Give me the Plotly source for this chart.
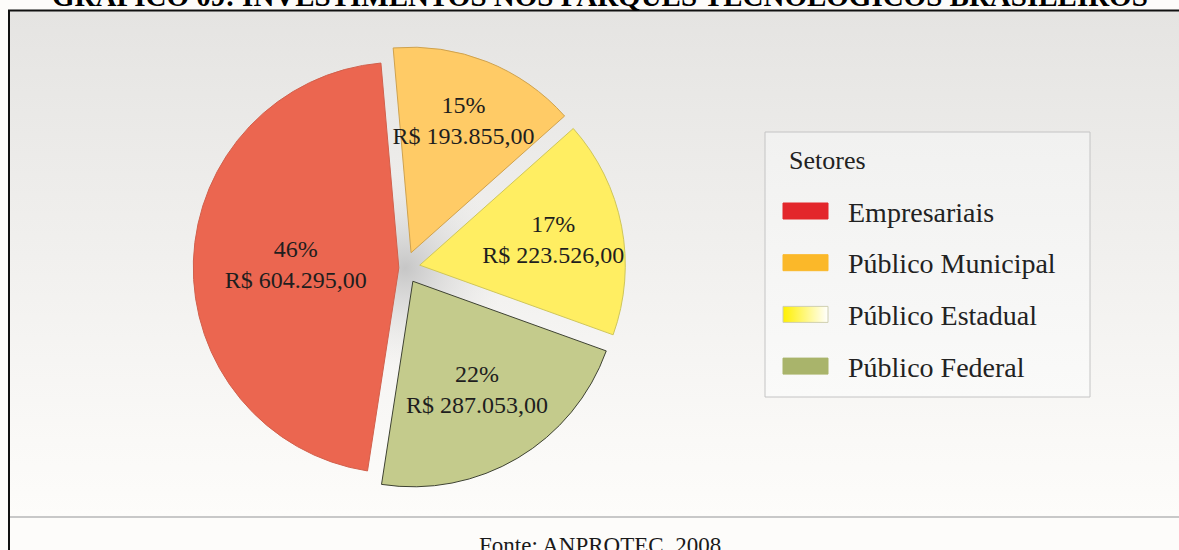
import base64
import plotly.graph_objects as go

# Investimentos por setor (R$)
setores = ["Público Municipal", "Público Estadual", "Público Federal", "Empresariais"]
valores = [193855.00, 223526.00, 287053.00, 604295.00]
destaque = [0.08, 0.073, 0.075, 0.03]  # afastamento de cada fatia

# cores das fatias e das amostras da legenda
cores_fatias = ["#FFCB66", "#FFEE62", "#C4CB8C", "#EB6650"]
cores_borda = ["#CFA24E", "#CFC65A", "#3E4232", "#D2604C"]
legenda_ordem = ["Empresariais", "Público Municipal", "Público Estadual", "Público Federal"]
legenda_cores = ["#E3262B", "#FBB829", None, "#A9B46B"]  # None -> gradiente amarelo/branco

titulo = "GRÁFICO 09: INVESTIMENTOS NOS PARQUES TECNOLÓGICOS BRASILEIROS"
fonte = "Fonte: ANPROTEC, 2008"
titulo_legenda = "Setores"

W, H = 1179, 550
SERIF = "Liberation Serif, Times New Roman, serif"

# geometria (pixels)
pie_cx, pie_cy, pie_box = 405, 268, 444
leg_x0, leg_y0, leg_x1, leg_y1 = 765, 132, 1090, 397
sw_x0, sw_x1, sw_h = 783, 828, 16
item_y0, item_step = 211, 51.7


def px(x):
    return x / W


def py(y):
    return 1 - y / H


# fundo: painel em degradê, sombra central, caixa da legenda
est_idx = legenda_cores.index(None)
est_y = item_y0 + est_idx * item_step
svg = f'''<svg xmlns="http://www.w3.org/2000/svg" width="{W}" height="{H}" viewBox="0 0 {W} {H}" preserveAspectRatio="none">
<defs>
<linearGradient id="panel" x1="0" y1="0" x2="0" y2="1">
<stop offset="0" stop-color="#E5E4E2"/><stop offset="0.85" stop-color="#FAF9F7"/><stop offset="1" stop-color="#FDFCFA"/></linearGradient>
<radialGradient id="hub" cx="0.5" cy="0.5" r="0.5">
<stop offset="0" stop-color="#C6C6C6"/><stop offset="1" stop-color="#E4E4E4" stop-opacity="0"/></radialGradient>
<linearGradient id="box" x1="0" y1="0" x2="0" y2="1">
<stop offset="0" stop-color="#F1F1F0"/><stop offset="1" stop-color="#FAFAF9"/></linearGradient>
<linearGradient id="est" x1="0" y1="0" x2="1" y2="0">
<stop offset="0" stop-color="#FFF000"/><stop offset="1" stop-color="#FFFFFF"/></linearGradient>
</defs>
<rect x="9" y="11" width="{W - 9}" height="506" fill="url(#panel)"/>
<circle cx="{pie_cx}" cy="{pie_cy}" r="100" fill="url(#hub)"/>
<rect x="{leg_x0}" y="{leg_y0}" width="{leg_x1 - leg_x0}" height="{leg_y1 - leg_y0}" fill="url(#box)"/>
<rect x="{sw_x0}" y="{est_y - sw_h / 2}" width="{sw_x1 - sw_x0}" height="{sw_h}" fill="url(#est)"/>
</svg>'''
svg_uri = "data:image/svg+xml;base64," + base64.b64encode(svg.encode("utf-8")).decode("ascii")

fig = go.Figure()

fig.add_trace(go.Pie(
    labels=setores,
    values=valores,
    sort=False,
    direction="clockwise",
    rotation=-5,
    pull=destaque,
    marker=dict(colors=cores_fatias, line=dict(color=cores_borda, width=1)),
    texttemplate="%{percent:.0%}<br>R$ %{value:,.2f}",
    textposition="inside",
    insidetextorientation="horizontal",
    textfont=dict(family=SERIF, size=24, color="#1E1E1E"),
    hoverinfo="label+value+percent",
    showlegend=False,
    domain=dict(
        x=[px(pie_cx - pie_box / 2), px(pie_cx + pie_box / 2)],
        y=[py(pie_cy + pie_box / 2), py(pie_cy - pie_box / 2)],
    ),
))

shapes = [
    # moldura
    dict(type="line", xref="paper", yref="paper", x0=px(9), x1=px(9), y0=py(10), y1=py(H),
         line=dict(color="#111111", width=2)),
    dict(type="line", xref="paper", yref="paper", x0=px(8), x1=1, y0=py(10.5), y1=py(10.5),
         line=dict(color="#111111", width=2)),
    dict(type="line", xref="paper", yref="paper", x0=px(10), x1=1, y0=py(517), y1=py(517),
         line=dict(color="#C8C8C8", width=2)),
    # caixa da legenda
    dict(type="rect", xref="paper", yref="paper", x0=px(leg_x0), x1=px(leg_x1),
         y0=py(leg_y1), y1=py(leg_y0), line=dict(color="#C4C4C4", width=1)),
]

annotations = [
    dict(text=f"<b>{titulo}</b>", x=px(600), y=py(-4), xref="paper", yref="paper",
         xanchor="center", yanchor="middle", showarrow=False,
         font=dict(family=SERIF, size=29, color="#000000")),
    dict(text=fonte, x=px(600), y=py(545), xref="paper", yref="paper",
         xanchor="center", yanchor="middle", showarrow=False,
         font=dict(family=SERIF, size=23, color="#1A1A1A")),
    dict(text=titulo_legenda, x=px(787), y=py(160), xref="paper", yref="paper",
         xanchor="left", yanchor="middle", showarrow=False,
         font=dict(family=SERIF, size=26, color="#222222")),
]

for i, (nome, cor) in enumerate(zip(legenda_ordem, legenda_cores)):
    yc = item_y0 + i * item_step
    shapes.append(dict(
        type="rect", xref="paper", yref="paper",
        x0=px(sw_x0), x1=px(sw_x1), y0=py(yc + sw_h / 2), y1=py(yc - sw_h / 2),
        fillcolor=cor if cor else "rgba(0,0,0,0)",
        line=dict(color="#CFCFB0" if cor is None else cor, width=1),
    ))
    annotations.append(dict(
        text=nome, x=px(846), y=py(yc + 1), xref="paper", yref="paper",
        xanchor="left", yanchor="middle", showarrow=False,
        font=dict(family=SERIF, size=28, color="#222222"),
    ))

fig.update_layout(
    width=W, height=H,
    margin=dict(l=0, r=0, t=0, b=0),
    paper_bgcolor="#FDFCFA",
    plot_bgcolor="#FDFCFA",
    separators=",.",
    uniformtext=dict(minsize=24, mode="show"),
    images=[dict(source=svg_uri, xref="paper", yref="paper", x=0, y=1,
                 sizex=1, sizey=1, xanchor="left", yanchor="top",
                 sizing="stretch", layer="below")],
    shapes=shapes,
    annotations=annotations,
)

fig.write_html("out.html")
